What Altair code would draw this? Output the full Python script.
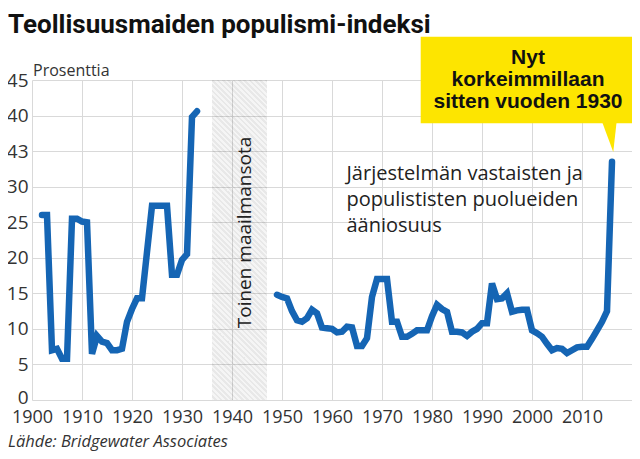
import altair as alt
import pandas as pd

# ---------------- data ----------------
years_pre = [1902, 1903, 1904, 1905, 1906, 1907, 1908, 1909, 1910, 1911,
             1912, 1913, 1914, 1915, 1916, 1917, 1918, 1919, 1920, 1921,
             1922, 1924, 1925, 1926, 1927, 1928, 1929, 1930, 1931, 1932, 1933]
vals_pre = [26.0, 26.0, 7.0, 7.2, 5.8, 5.8, 25.5, 25.5, 25.1, 25.0,
            6.5, 9.0, 8.2, 8.0, 7.0, 7.0, 7.2, 11.0, 12.8, 14.3,
            14.3, 27.3, 27.3, 27.3, 27.3, 17.6, 17.6, 19.7, 20.5, 39.8, 40.6]

years_post = [1949, 1950, 1951, 1952, 1953, 1954, 1955, 1956, 1957, 1958,
              1959, 1960, 1961, 1962, 1963, 1964, 1965, 1966, 1967, 1968,
              1969, 1970, 1971, 1972, 1973, 1974, 1975, 1976, 1977, 1978,
              1979, 1980, 1981, 1982, 1983, 1984, 1985, 1986, 1987, 1988,
              1989, 1990, 1991, 1992, 1993, 1994, 1995, 1996, 1997, 1998,
              1999, 2000, 2001, 2002, 2003, 2004, 2005, 2006, 2007, 2008,
              2009, 2010, 2011, 2012, 2013, 2014, 2015, 2016]
vals_post = [14.8, 14.5, 14.3, 12.5, 11.2, 11.0, 11.5, 12.7, 12.2, 10.2,
             10.1, 10.0, 9.5, 9.6, 10.3, 10.2, 7.6, 7.6, 8.7, 14.5,
             17.0, 17.0, 17.0, 11.0, 11.0, 8.9, 8.9, 9.3, 9.8, 9.8,
             9.8, 11.8, 13.4, 12.8, 12.4, 9.6, 9.6, 9.5, 9.0, 9.6,
             10.0, 10.8, 10.8, 16.4, 14.2, 14.3, 15.0, 12.4, 12.6, 12.7,
             12.7, 9.8, 9.4, 8.9, 7.9, 7.0, 7.3, 7.2, 6.6, 7.0,
             7.4, 7.5, 7.5, 8.6, 9.8, 11.0, 12.5, 33.5]

war_years = [1936, 1947]

x_ticks = [1900, 1910, 1920, 1930, 1940, 1950, 1960, 1970, 1980, 1990, 2000, 2010, 2020]
y_ticks = [0, 5, 10, 15, 20, 25, 30, 35, 40, 45]

title_text = "Teollisuusmaiden populismi-indeksi"
unit_text = "Prosenttia"
callout_lines = ["Nyt", "korkeimmillaan", "sitten vuoden 1930"]
desc_lines = ["Järjestelmän vastaisten ja", "populististen puolueiden", "ääniosuus"]
war_text = "Toinen maailmansota"
source_text = "Lähde:  Bridgewater Associates"

# ---------------- styles ----------------
BLUE = "#1565b4"
YELLOW = "#fde500"
FONT = "Open Sans"
TITLE_FONT = "Roboto, sans-serif"

line_df = pd.DataFrame({
    "year": years_pre + years_post,
    "value": vals_pre + vals_post,
    "seg": ["a"] * len(years_pre) + ["b"] * len(years_post),
})
band_df = pd.DataFrame({"start": [war_years[0]], "end": [war_years[1]]})
anchor = pd.DataFrame({"k": [0]})

x_scale = alt.Scale(domain=[1900, 2020], nice=False, zero=False)
y_scale = alt.Scale(domain=[0, 45], nice=False)

x_axis = alt.Axis(values=x_ticks, format="d", title=None,
                  labelExpr="datum.value == 2020 ? '' : datum.label",
                  grid=True, domain=False, ticks=False, labelPadding=8,
                  labelFontSize=18, labelFlush=False, labelOverlap=False)
y_axis = alt.Axis(values=y_ticks, title=None,
                  labelExpr="datum.value == 35 ? '43' : datum.label",
                  grid=True, domain=False, ticks=False, labelPadding=4,
                  labelFontSize=19, labelOverlap=False,
                  labelOffset={"condition": {"test": "datum.value == 0", "value": -3}, "value": 0})

# hatched band via striped linear gradient (stripes top-left -> bottom-right)
w_px, h_px = 55.0, 320.0
lam = (w_px + h_px) / (w_px ** 2 + h_px ** 2)
n_stripes = 70
stops = []
c_dark = "rgba(0,0,0,0.09)"
c_light = "rgba(0,0,0,0.04)"
for i in range(n_stripes):
    a = i / n_stripes
    m = (i + 0.5) / n_stripes
    b = (i + 1) / n_stripes
    stops += [{"offset": a, "color": c_dark}, {"offset": m, "color": c_dark},
              {"offset": m, "color": c_light}, {"offset": b, "color": c_light}]
hatch = {"gradient": "linear", "x1": 1, "y1": 0,
         "x2": 1 - lam * w_px, "y2": lam * h_px, "stops": stops}

band = alt.Chart(band_df).mark_rect(fill=hatch).encode(
    x=alt.X("start:Q", scale=x_scale, axis=x_axis),
    x2="end:Q",
    y=alt.Y(datum=0, scale=y_scale, axis=y_axis),
    y2=alt.Y2(datum=45),
)

line = alt.Chart(line_df).mark_line(
    color=BLUE, strokeWidth=6.5, strokeCap="round", strokeJoin="miter"
).encode(
    x=alt.X("year:Q", scale=x_scale, axis=x_axis),
    y=alt.Y("value:Q", scale=y_scale, axis=y_axis),
    detail="seg:N",
)

box = alt.Chart(anchor).mark_rect(color=YELLOW).encode(
    x=alt.value(388.7), x2=alt.value(600), y=alt.value(-43.3), y2=alt.value(43.3)
)
pointer = alt.Chart(anchor).mark_point(
    shape="M -0.52 -1.15 L 0.52 -1.15 L 0.28 1 Z", size=841, filled=True,
    color=YELLOW, opacity=1, strokeWidth=0
).encode(x=alt.value(577.2), y=alt.value(57.4))

callout = alt.Chart(anchor).mark_text(
    text=callout_lines, font="Liberation Sans", fontWeight="bold", fontSize=21,
    lineHeight=22, align="center", baseline="middle", color="#111"
).encode(x=alt.value(496), y=alt.value(-22))

desc = alt.Chart(anchor).mark_text(
    text=desc_lines, font=FONT, fontSize=20, lineHeight=26,
    align="left", baseline="middle", color="#222"
).encode(x=alt.value(314.5), y=alt.value(94))

war = alt.Chart(anchor).mark_text(
    text=war_text, font=FONT, fontSize=19, angle=270,
    align="center", baseline="middle", color="#222"
).encode(x=alt.value(213), y=alt.value(152.5))

title = alt.Chart(anchor).mark_text(
    text=title_text, font=TITLE_FONT, fontWeight="bold", fontSize=26,
    align="left", baseline="alphabetic", color="#111"
).encode(x=alt.value(-24), y=alt.value(-47))

unit = alt.Chart(anchor).mark_text(
    text=unit_text, font=FONT, fontSize=16, align="left",
    baseline="alphabetic", color="#333"
).encode(x=alt.value(1), y=alt.value(-4))

source = alt.Chart(anchor).mark_text(
    text=source_text, font=FONT, fontSize=16.5, fontStyle="italic", align="left",
    baseline="alphabetic", color="#333"
).encode(x=alt.value(-24), y=alt.value(367))

chart = alt.layer(band, line, box, pointer, callout, desc, war, title, unit, source).properties(
    width=600, height=320,
    autosize=alt.AutoSizeParams(type="none"),
    padding={"left": 24, "top": 72, "right": 0, "bottom": 51},
    background="white",
).configure_view(stroke=None).configure_axis(
    gridColor="#d9d9d9", gridWidth=1, labelFont=FONT, labelColor="#333"
)

chart.save("out.html", embed_options={"renderer": "svg", "actions": False})
